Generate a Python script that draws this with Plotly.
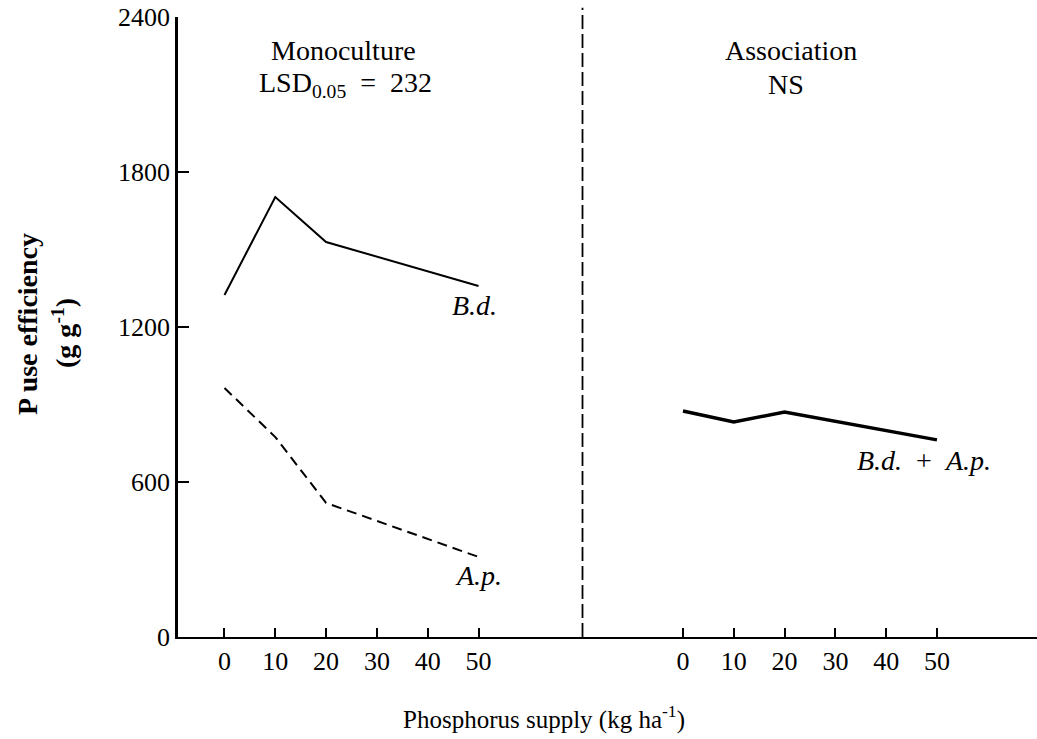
import plotly.graph_objects as go

# Phosphorus supply levels (kg ha-1)
p_supply = [0, 10, 20, 50]

# P use efficiency (g g-1)
bd_mono = [1324, 1703, 1529, 1359]      # B.d. in monoculture
ap_mono = [964, 774, 519, 310]          # A.p. in monoculture
assoc = [875, 832, 871, 763]            # B.d. + A.p. association

x_ticks = [0, 10, 20, 30, 40, 50]
y_ticks = [0, 600, 1200, 1800, 2400]

FONT = "Liberation Serif, Times New Roman, serif"
split = 0.4709

fig = go.Figure()

fig.add_trace(go.Scatter(x=p_supply, y=bd_mono, mode="lines",
                         line=dict(color="black", width=2),
                         xaxis="x", yaxis="y", showlegend=False))
fig.add_trace(go.Scatter(x=p_supply, y=ap_mono, mode="lines",
                         line=dict(color="black", width=2, dash="10px,6px"),
                         xaxis="x", yaxis="y", showlegend=False))
fig.add_trace(go.Scatter(x=p_supply, y=assoc, mode="lines",
                         line=dict(color="black", width=3.5),
                         xaxis="x2", yaxis="y", showlegend=False))

xcommon = dict(
    tickmode="array", tickvals=x_ticks, ticktext=[str(v) for v in x_ticks],
    ticks="inside", ticklen=9, tickwidth=1.5, tickcolor="black",
    showline=True, linecolor="black", linewidth=2,
    showgrid=False, zeroline=False, anchor="y",
    tickfont=dict(family=FONT, size=26, color="black"),
)

fig.update_layout(
    width=1037, height=739,
    margin=dict(l=178, r=0, t=17, b=102),
    paper_bgcolor="white", plot_bgcolor="white",
    font=dict(family=FONT, color="black"),
    xaxis=dict(domain=[0, split], range=[-9.15, 70.47], **xcommon),
    xaxis2=dict(domain=[split, 1], range=[-19.78, 69.69], **xcommon),
    yaxis=dict(
        range=[0, 2400], tickmode="array", tickvals=y_ticks,
        ticktext=[str(v) for v in y_ticks],
        ticks="inside", ticklen=11, tickwidth=2, tickcolor="black",
        showline=True, linecolor="black", linewidth=2.5,
        showgrid=False, zeroline=False,
        tickfont=dict(family=FONT, size=26, color="black"),
    ),
    shapes=[dict(type="line", xref="paper", yref="paper",
                 x0=split, x1=split, y0=0, y1=1.015,
                 line=dict(color="black", width=1.8, dash="14px,5px"))],
)

ann = []
# panel headings
ann.append(dict(text="Monoculture", x=23.5, y=2272, xref="x", yref="y"))
ann.append(dict(text="LSD<sub>0.05</sub>  =  232", x=23.9, y=2137, xref="x", yref="y"))
ann.append(dict(text="Association", x=21.3, y=2272, xref="x2", yref="y"))
ann.append(dict(text="NS", x=20.3, y=2137, xref="x2", yref="y"))
# series labels
ann.append(dict(text="<i>B.d.</i>", x=54.0, y=1285, xref="x", yref="y", xanchor="right"))
ann.append(dict(text="<i>A.p.</i>", x=55.0, y=240, xref="x", yref="y", xanchor="right"))
ann.append(dict(text="<i>B.d.</i>  +  <i>A.p.</i>", x=61.0, y=685, xref="x2", yref="y", xanchor="right"))
# axis titles
ann.append(dict(text="Phosphorus supply (kg ha<sup>-1</sup>)", x=0.426, y=-0.1306,
                xref="paper", yref="paper", size=25))
ann.append(dict(text="<b>P use efficiency</b>", x=-0.1746, y=0.505,
                xref="paper", yref="paper", textangle=-90))
ann.append(dict(text="<b>(g g<sup>-1</sup>)</b>", x=-0.133, y=0.49,
                xref="paper", yref="paper", textangle=-90))

for a in ann:
    size = a.pop("size", 28)
    a.setdefault("xanchor", "center")
    a["yanchor"] = "middle"
    a["showarrow"] = False
    a["font"] = dict(family=FONT, size=size, color="black")
fig.update_layout(annotations=ann)

fig.write_html("out.html")
